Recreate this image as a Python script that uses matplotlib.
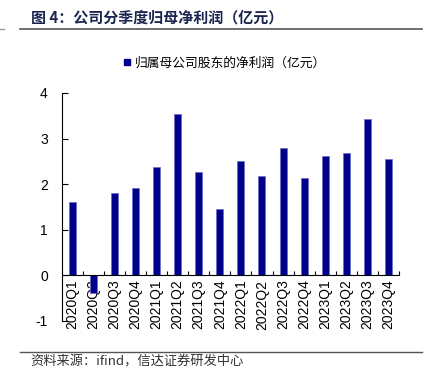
import matplotlib
matplotlib.use("Agg")
import matplotlib.pyplot as plt
from matplotlib.lines import Line2D
import numpy as np

categories = ["2020Q1", "2020Q2", "2020Q3", "2020Q4", "2021Q1", "2021Q2", "2021Q3", "2021Q4",
              "2022Q1", "2022Q2", "2022Q3", "2022Q4", "2023Q1", "2023Q2", "2023Q3", "2023Q4"]
values = [1.62, -0.38, 1.80, 1.91, 2.37, 3.54, 2.26, 1.46,
          2.50, 2.19, 2.79, 2.13, 2.62, 2.68, 3.44, 2.55]
yticks = [-1, 0, 1, 2, 3, 4]
series_name = "归属母公司股东的净利润（亿元）"
title = "图 4：公司分季度归母净利润（亿元）"
source = "资料来源：ifind，信达证券研发中心"

cjk = ["Noto Sans CJK SC", "DejaVu Sans"]
latin = ["Liberation Sans", "DejaVu Sans"]

fig = plt.figure(figsize=(4.32, 3.83), dpi=100)
ax = fig.add_axes([61.7/432, 1-321/383, (399-61.7)/432, (321-93)/383])

x = np.arange(len(categories))
ax.bar(x, values, width=0.33, color="#00008B", edgecolor="#6a6ac8", linewidth=0.5, zorder=2)

ax.set_xlim(-0.5, len(categories)-0.5)
ax.set_ylim(-1, 4)
ax.set_yticks(yticks)
ax.set_yticklabels([str(t) for t in yticks], family=latin, fontsize=10)
ax.tick_params(axis="y", direction="in", length=4, width=0.8, pad=10)

ax.spines["top"].set_visible(False)
ax.spines["right"].set_visible(False)
ax.spines["bottom"].set_position(("data", 0))
ax.spines["left"].set_linewidth(0.8)
ax.spines["bottom"].set_linewidth(0.8)

ax.set_xticks(np.arange(len(categories)+1)-0.5, minor=False)
ax.set_xticklabels([])
ax.tick_params(axis="x", direction="in", length=3, width=0.8)
ax.set_xticks(x, minor=True)
ax.set_xticklabels(categories, minor=True, rotation=90, family=latin, fontsize=10)
ax.tick_params(axis="x", which="minor", length=0, pad=3)

# legend
handle = Line2D([], [], marker="s", linestyle="none", color="#00008B", markersize=5)
fig.legend([handle], [series_name], loc="center", bbox_to_anchor=(224/432, 1-63/383),
           frameon=False, prop={"family": cjk, "size": 9.2}, handletextpad=0.2,
           handlelength=0.8)

# title
fig.text(31/432, 1-17/383, title, family=cjk, fontsize=10.8, fontweight="bold",
         color="#1a2550", va="center", ha="left")
fig.add_artist(Line2D([20/432, 422/432], [1-29/383, 1-29/383], color="#555555", linewidth=1.2))
fig.add_artist(Line2D([0/432, 4/432], [1-29/383, 1-29/383], color="#999999", linewidth=1))

# footer
fig.add_artist(Line2D([20/432, 422/432], [1-352/383, 1-352/383], color="#555555", linewidth=1.0))
fig.text(30/432, 1-362/383, source, family=cjk, fontsize=9.5, style="italic",
         color="#333333", va="center", ha="left")

fig.savefig("out.png", dpi=100)
